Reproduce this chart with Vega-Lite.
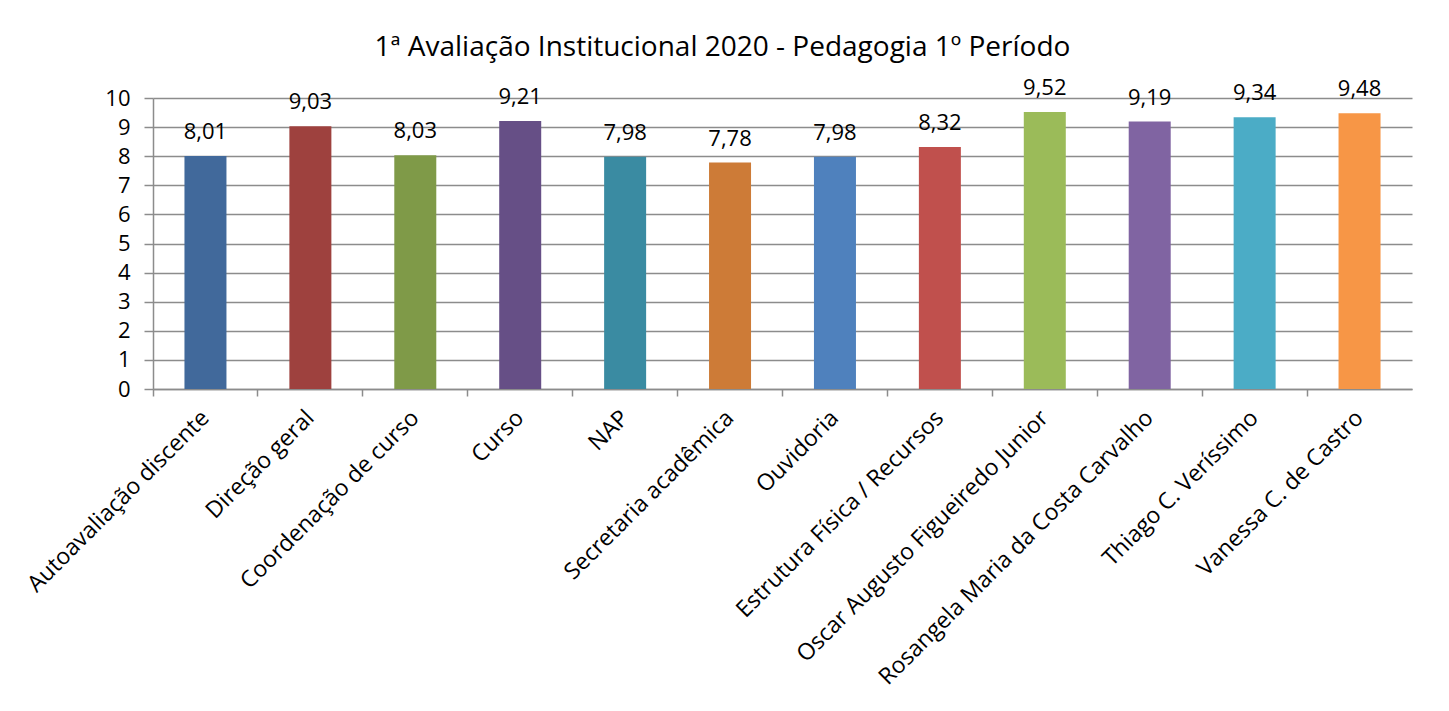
{
  "$schema": "https://vega.github.io/schema/vega-lite/v6.json",
  "autosize": {"type": "none"},
  "width": 1259,
  "height": 291,
  "padding": {"left": 153, "top": 98, "right": 37, "bottom": 322},
  "background": "white",
  "config": {
    "locale": {"number": {"decimal": ",", "thousands": ".", "grouping": [3], "currency": ["R$", ""]}},
    "view": {"stroke": null},
    "font": "Open Sans"
  },
  "title": {
    "text": "1ª Avaliação Institucional 2020 - Pedagogia 1º Período",
    "fontSize": 28,
    "fontWeight": "normal",
    "font": "Open Sans",
    "color": "#000000",
    "anchor": "middle",
    "dx": -60,
    "offset": 15
  },
  "data": {
    "values": [
      {"categoria": "Autoavaliação discente", "nota": 8.01, "cor": "#41699B"},
      {"categoria": "Direção geral", "nota": 9.03, "cor": "#9E413E"},
      {"categoria": "Coordenação de curso", "nota": 8.03, "cor": "#7F9A48"},
      {"categoria": "Curso", "nota": 9.21, "cor": "#664F86"},
      {"categoria": "NAP", "nota": 7.98, "cor": "#3A8BA2"},
      {"categoria": "Secretaria acadêmica", "nota": 7.78, "cor": "#CD7B37"},
      {"categoria": "Ouvidoria", "nota": 7.98, "cor": "#4F81BD"},
      {"categoria": "Estrutura Física / Recursos", "nota": 8.32, "cor": "#C0504D"},
      {"categoria": "Oscar Augusto Figueiredo Junior", "nota": 9.52, "cor": "#9BBB59"},
      {"categoria": "Rosangela Maria da Costa Carvalho", "nota": 9.19, "cor": "#8064A2"},
      {"categoria": "Thiago C. Veríssimo", "nota": 9.34, "cor": "#4BACC6"},
      {"categoria": "Vanessa C. de Castro", "nota": 9.48, "cor": "#F79646"}
    ]
  },
  "encoding": {
    "y": {
      "field": "nota",
      "type": "quantitative",
      "scale": {"domain": [0, 10], "nice": false},
      "axis": {
        "title": null,
        "values": [0, 1, 2, 3, 4, 5, 6, 7, 8, 9, 10],
        "labelOverlap": false,
        "labelFontSize": 22,
        "labelFont": "Open Sans",
        "labelColor": "#000000",
        "labelPadding": 14,
        "tickSize": 9,
        "tickColor": "#8c8c8c",
        "tickWidth": 1.5,
        "domainColor": "#8c8c8c",
        "domainWidth": 1.5,
        "grid": true,
        "gridColor": "#8c8c8c",
        "gridWidth": 1.5
      }
    }
  },
  "layer": [
    {
      "mark": {"type": "bar", "width": 42},
      "encoding": {
        "x": {
          "field": "categoria",
          "type": "nominal",
          "sort": null,
          "scale": {"paddingInner": 0, "paddingOuter": 0},
          "axis": {
            "title": null,
            "orient": "bottom",
            "labelAngle": -45,
            "labelAlign": "right",
            "labelBaseline": "middle",
            "labelFontSize": 23,
            "labelFont": "Open Sans",
            "labelColor": "#000000",
            "labelPadding": 25,
            "labelLimit": 0,
            "ticks": false,
            "domain": true,
            "domainColor": "#8c8c8c",
            "domainWidth": 1.5,
            "grid": false
          }
        },
        "color": {"field": "cor", "type": "nominal", "scale": null, "legend": null}
      }
    },
    {
      "mark": {"type": "text", "baseline": "bottom", "dy": -12, "fontSize": 22, "font": "Open Sans", "color": "#000000"},
      "encoding": {
        "x": {
          "field": "categoria",
          "type": "nominal",
          "sort": null,
          "axis": {
            "title": null,
            "orient": "bottom",
            "bandPosition": 0,
            "labels": false,
            "ticks": true,
            "tickSize": 7,
            "tickColor": "#8c8c8c",
            "tickWidth": 1.5,
            "domain": false,
            "grid": false
          }
        },
        "text": {"field": "nota", "type": "quantitative", "format": ".2f"}
      }
    }
  ],
  "resolve": {"axis": {"x": "independent"}}
}
